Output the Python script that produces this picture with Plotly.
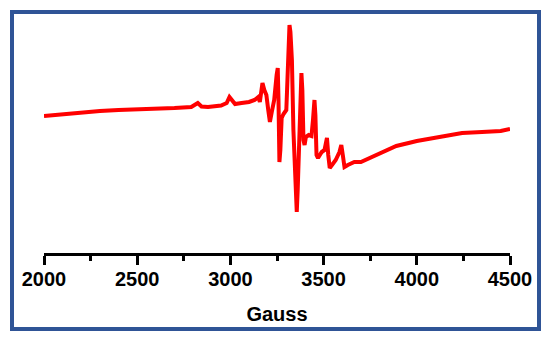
import plotly.graph_objects as go

# Magnetic field (Gauss) and EPR signal intensity (arbitrary units)
gauss = [2000, 2050, 2100, 2200, 2300, 2400, 2500, 2600, 2700, 2790, 2810, 2825, 2845, 2880,
         2950, 2980, 2995, 3010, 3025, 3060, 3100, 3130, 3150, 3158, 3165, 3172, 3182, 3193,
         3203, 3212, 3222, 3235, 3248, 3254, 3258, 3263, 3268, 3275, 3285, 3300, 3306, 3312,
         3317, 3322, 3330, 3338, 3345, 3352, 3356, 3361, 3368, 3375, 3381, 3386, 3392, 3398,
         3405, 3420, 3435, 3443, 3451, 3456, 3462, 3470, 3490, 3505, 3512, 3518, 3525, 3533,
         3545, 3565, 3585, 3595, 3603, 3612, 3630, 3665, 3700, 3750, 3800, 3890, 4000, 4066,
         4150, 4243, 4350, 4450, 4500]
intensity = [44, 45, 46, 48, 49, 50, 50.5, 51.5, 52, 53, 56, 57, 53.5, 53,
             54.5, 57, 63, 60, 56, 57, 58, 60, 63, 58, 70, 77, 70, 65,
             50, 38, 48, 60, 85, 92, 60, -2, 10, 42, 46, 50, 80, 125,
             135, 128, 100, 30, -15, -45, -52, -30, 12, 60, 87, 70, 20, 15,
             23, 25, 24, 40, 60, 45, 5, 2, 8, 10, 20, 22, 5, -8,
             -5, 0, 8, 15, 5, -7, -5, -2, -2, 2, 7, 14, 19, 21,
             24, 27, 28, 29, 31]

tick_vals = [2000, 2500, 3000, 3500, 4000, 4500]
tick_text = ["2000", "2500", "3000", "3500", "4000", "4500"]

# page body has an 8px default margin, so the figure is sized to fit inside the window
fig = go.Figure()
fig.add_trace(go.Scatter(x=gauss, y=intensity, mode="lines",
                         line=dict(color="#FF0000", width=4), showlegend=False))

fig.update_layout(
    width=542, height=333,
    margin=dict(l=36, r=40, t=12, b=88),
    paper_bgcolor="white", plot_bgcolor="white",
    xaxis=dict(range=[2000, 4500], showgrid=False, zeroline=False,
               showline=True, linecolor="black", linewidth=3,
               ticks="outside", ticklen=9, tickwidth=3, tickcolor="black",
               tickvals=tick_vals, ticktext=tick_text, ticklabelstandoff=-3,
               tickfont=dict(family="Liberation Sans, Arial", size=20, color="black", weight="bold"),
               minor=dict(ticks="outside", ticklen=5, tickwidth=3, tickcolor="black", dtick=250),
               title=dict(text="Gauss", font=dict(family="Liberation Sans, Arial", size=20,
                                                  color="black", weight="bold"), standoff=18)),
    yaxis=dict(range=[-93, 140], visible=False),
    shapes=[dict(type="rect", xref="paper", yref="paper",
                 x0=(12 - 44) / 466, x1=(539 - 44) / 466,
                 y0=(253 - 329) / 233, y1=(253 - 12) / 233,
                 line=dict(color="#2F5496", width=4), fillcolor="rgba(0,0,0,0)")],
)

fig.write_html("out.html")
